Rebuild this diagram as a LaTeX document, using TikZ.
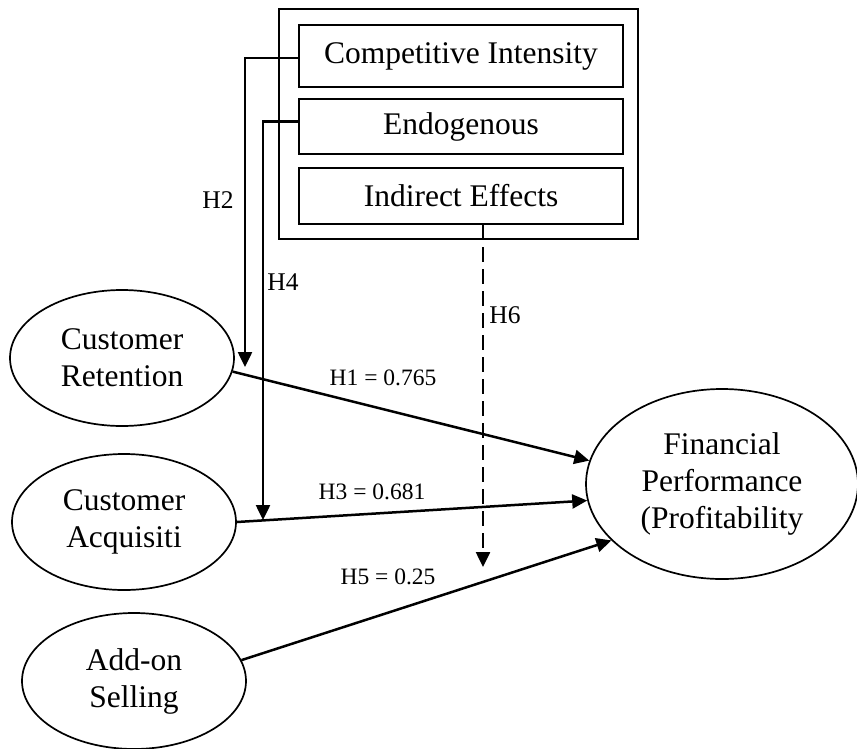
\documentclass[tikz,border=0pt]{standalone}
\usepackage{fontspec}
\setmainfont{Liberation Serif}
\usepackage{tikz}
\usetikzlibrary{arrows.meta,positioning,shapes.geometric}

\begin{document}
\begin{tikzpicture}[
  x=1pt, y=-1pt,
  font=\fontsize{31.5}{37}\selectfont,
  frame/.style={draw=black, line width=2pt, inner sep=0pt},
  factor/.style={
    draw=black,
    line width=2pt,
    minimum width=324pt,
    inner sep=0pt
  },
  construct/.style={
    ellipse,
    draw=black,
    line width=1.7pt,
    minimum width=224pt,
    minimum height=136pt,
    align=center,
    inner sep=0pt
  },
  flow/.style={-{Triangle[length=15pt,width=14pt]}, line width=2.5pt, draw=black},
  moderate/.style={-{Triangle[length=15pt,width=14pt]}, dashed, dash pattern=on 15pt off 7pt, line width=2.5pt, draw=black},
  hyp/.style={font=\fontsize{25.5}{30}\selectfont},
  coef/.style={font=\fontsize{23.5}{28}\selectfont}
]
  \useasboundingbox (0,0) rectangle (857,748);

  \node[frame, minimum width=359pt, minimum height=230pt] (group) at (458.5,124) {};
  \node[factor, minimum height=62pt] (compet) at (461,56) {Competitive Intensity};
  \node[factor, minimum height=55pt] (endog) at (461,126.5) {Endogenous};
  \node[factor, minimum height=56pt] (indirect) at (461,196) {Indirect Effects};

  \node[construct] (retention) at (122,358) {Customer\\Retention};
  \node[construct] (acquisition) at (124,522) {Customer\\Acquisiti};
  \node[construct] (addon) at (134,681) {Add-on\\Selling};
  \node[construct, minimum width=272pt, minimum height=190pt] (finance) at (722,484) {Financial\\Performance\\(Profitability};

  \coordinate (h2end) at (245,367);
  \coordinate (h4end) at (263,520);
  \coordinate (h6end) at (483,567);

  \draw[flow] (retention.-7) -- (finance.170);
  \draw[flow] (acquisition.east) -- (finance.187);
  \draw[flow] (addon.11) -- (finance.207);
  \draw[flow] ([yshift=-2pt]compet.west) -| (h2end);
  \draw[flow] ([yshift=5pt]endog.west) -| (h4end);
  \draw[moderate] (indirect.south -| h6end) -- (h6end);

  \node[hyp] (h2) at (218,200) {H2};
  \node[hyp] (h4) at (283,282) {H4};
  \node[hyp] (h6) at (505,315) {H6};
  \node[coef] (h1) at (383,378) {H1 = 0.765};
  \node[coef] (h3) at (372,492) {H3 = 0.681};
  \node[coef] (h5) at (388,577) {H5 = 0.25};
\end{tikzpicture}
\end{document}
